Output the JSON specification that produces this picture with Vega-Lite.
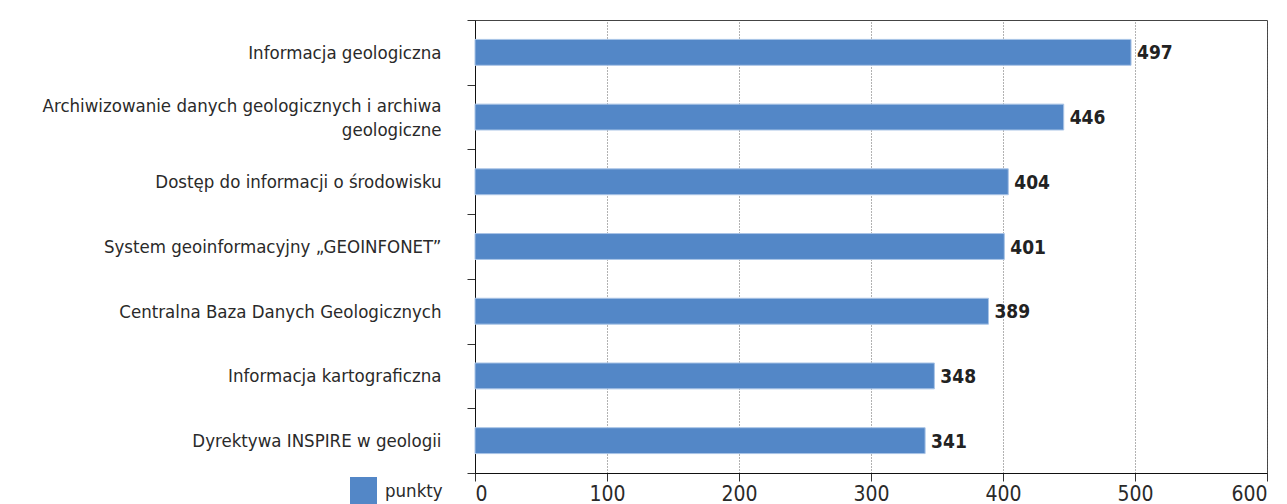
{
  "$schema": "https://vega.github.io/schema/vega-lite/v6.json",
  "autosize": "none",
  "width": 792,
  "height": 453,
  "padding": {"left": 475, "top": 20, "right": 20, "bottom": 31},
  "background": "white",
  "config": {
    "view": {"stroke": "#444", "strokeWidth": 1},
    "font": "DejaVu Sans Condensed"
  },
  "data": {
    "values": [
      {"kategoria": "Informacja geologiczna", "punkty": 497, "seria": "punkty"},
      {"kategoria": "Archiwizowanie danych geologicznych i archiwa|geologiczne", "punkty": 446, "seria": "punkty"},
      {"kategoria": "Dostęp do informacji o środowisku", "punkty": 404, "seria": "punkty"},
      {"kategoria": "System geoinformacyjny „GEOINFONET”", "punkty": 401, "seria": "punkty"},
      {"kategoria": "Centralna Baza Danych Geologicznych", "punkty": 389, "seria": "punkty"},
      {"kategoria": "Informacja kartograficzna", "punkty": 348, "seria": "punkty"},
      {"kategoria": "Dyrektywa INSPIRE w geologii", "punkty": 341, "seria": "punkty"}
    ]
  },
  "encoding": {
    "y": {
      "field": "kategoria",
      "type": "nominal",
      "sort": null,
      "scale": {"paddingInner": 0, "paddingOuter": 0},
      "axis": {
        "title": null,
        "labelExpr": "split(datum.label, '|')",
        "labelFontSize": 18.5,
        "labelColor": "#2a2a2a",
        "labelFont": "DejaVu Sans Condensed",
        "labelPadding": 26,
        "labelLimit": 470,
        "labelLineHeight": 24,
        "labelOffset": {"condition": {"test": "indexof(datum.label, '|') >= 0", "value": -12}, "value": 0},
        "tickBand": "extent",
        "tickSize": 8,
        "tickColor": "#333",
        "domainColor": "#111",
        "grid": false
      }
    },
    "x": {
      "field": "punkty",
      "type": "quantitative",
      "scale": {"domain": [0, 600], "nice": false},
      "axis": {
        "title": null,
        "values": [0, 100, 200, 300, 400, 500, 600],
        "labelFontSize": 21,
        "labelColor": "#2a2a2a",
        "labelFont": "DejaVu Sans Condensed",
        "labelPadding": 2,
        "tickSize": 8,
        "tickColor": "#333",
        "domainColor": "#111",
        "grid": true,
        "gridColor": "#555",
        "gridDash": [1, 2],
        "gridWidth": 1,
        "gridOpacity": 0.9
      }
    }
  },
  "layer": [
    {
      "mark": {"type": "bar", "height": {"band": 0.4}, "stroke": "#a9c4e6", "strokeWidth": 1},
      "encoding": {
        "color": {
          "field": "seria",
          "type": "nominal",
          "scale": {"range": ["#5387c7"]},
          "legend": {
            "title": null,
            "orient": "none",
            "legendX": -125,
            "legendY": 457,
            "symbolType": "square",
            "symbolSize": 729,
            "symbolStrokeWidth": 0,
            "labelFontSize": 18.5,
            "labelFont": "DejaVu Sans Condensed",
            "labelColor": "#2a2a2a",
            "labelOffset": 8
          }
        }
      }
    },
    {
      "mark": {"type": "text", "align": "left", "baseline": "middle", "dx": 6, "dy": 1, "fontSize": 19, "fontWeight": "bold", "font": "DejaVu Sans Condensed", "color": "#222"},
      "encoding": {"text": {"field": "punkty", "type": "quantitative"}}
    }
  ]
}
